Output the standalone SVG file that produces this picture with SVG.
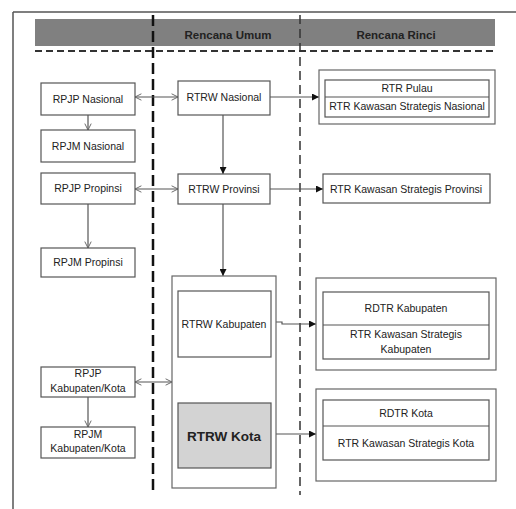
<svg xmlns="http://www.w3.org/2000/svg" width="516" height="509" viewBox="0 0 516 509">
<style>
.bx{fill:#fff;stroke:#555;stroke-width:1.2}
.ob{fill:#fff;stroke:#666;stroke-width:1.2}
.t{font-family:"Liberation Sans",Arial,sans-serif;font-size:10.5px;fill:#222;text-anchor:middle}
.h{font-family:"Liberation Sans",Arial,sans-serif;font-size:11.5px;font-weight:bold;fill:#222;text-anchor:middle}
.c{stroke:#555;stroke-width:1.2;fill:none}
</style>
<defs>
<marker id="fa" viewBox="0 0 10 10" refX="10" refY="5" markerWidth="7" markerHeight="7" orient="auto" markerUnits="userSpaceOnUse"><path d="M0,0 L10,5 L0,10 z" fill="#111"/></marker>
<marker id="oa" viewBox="0 0 10 10" refX="9" refY="5" markerWidth="8" markerHeight="8" orient="auto-start-reverse" markerUnits="userSpaceOnUse"><path d="M1,1 L9,5 L1,9" fill="none" stroke="#666" stroke-width="1.2"/></marker>
</defs>
<rect width="516" height="509" fill="#fff"/>
<g id="frame">
<path d="M13,12 H516 M13,12 V509" stroke="#555" stroke-width="1.5" fill="none"/>
<rect x="35" y="19" width="460" height="27" fill="#808080"/>
<line x1="35" y1="51" x2="495" y2="51" stroke="#333" stroke-width="2" stroke-dasharray="7,4"/>
<line x1="153" y1="15" x2="153" y2="495" stroke="#111" stroke-width="2.5" stroke-dasharray="11,5"/>
<line x1="300" y1="15" x2="300" y2="495" stroke="#333" stroke-width="1.5" stroke-dasharray="9,5"/>
<text class="h" x="228" y="39">Rencana Umum</text>
<text class="h" x="396" y="39">Rencana Rinci</text>
</g>
<g id="connectors">
<line class="c" x1="135" y1="97" x2="178" y2="97" marker-start="url(#oa)" marker-end="url(#oa)"/>
<line class="c" x1="135" y1="189" x2="178" y2="189" marker-start="url(#oa)" marker-end="url(#oa)"/>
<line class="c" x1="135" y1="382" x2="172" y2="382" marker-start="url(#oa)" marker-end="url(#oa)"/>
<line class="c" x1="88" y1="115" x2="88" y2="130" marker-end="url(#oa)"/>
<line class="c" x1="88" y1="204" x2="88" y2="248" marker-end="url(#oa)"/>
<line class="c" x1="88" y1="397" x2="88" y2="427" marker-end="url(#oa)"/>
<line class="c" x1="270" y1="97" x2="319" y2="97" marker-end="url(#fa)"/>
<line class="c" x1="270" y1="189" x2="323" y2="189" marker-end="url(#fa)"/>
<line class="c" x1="223" y1="115" x2="223" y2="174" marker-end="url(#fa)"/>
<line class="c" x1="223" y1="204" x2="223" y2="276" marker-end="url(#fa)"/>
<polyline class="c" points="271,322 282,322 282,324 316,324" marker-end="url(#fa)"/>
<line class="c" x1="271" y1="434" x2="316" y2="434" marker-end="url(#fa)"/>
</g>
<g id="rpjp-nasional"><rect class="bx" x="41" y="83" width="94" height="32"/><text class="t" x="88" y="103">RPJP Nasional</text></g>
<g id="rpjm-nasional"><rect class="bx" x="41" y="130" width="94" height="32"/><text class="t" x="88" y="150">RPJM Nasional</text></g>
<g id="rpjp-propinsi"><rect class="bx" x="41" y="173" width="94" height="31"/><text class="t" x="88" y="192">RPJP Propinsi</text></g>
<g id="rpjm-propinsi"><rect class="bx" x="41" y="248" width="94" height="29"/><text class="t" x="88" y="266">RPJM Propinsi</text></g>
<g id="rpjp-kabkota"><rect class="bx" x="41" y="367" width="94" height="30"/><text class="t" x="88" y="377">RPJP</text><text class="t" x="88" y="392">Kabupaten/Kota</text></g>
<g id="rpjm-kabkota"><rect class="bx" x="41" y="427" width="94" height="31"/><text class="t" x="88" y="438">RPJM</text><text class="t" x="88" y="452">Kabupaten/Kota</text></g>
<g id="rtrw-nasional"><rect class="bx" x="178" y="81" width="92" height="34"/><text class="t" x="224" y="101">RTRW Nasional</text></g>
<g id="rtrw-provinsi"><rect class="bx" x="178" y="174" width="92" height="30"/><text class="t" x="224" y="193">RTRW Provinsi</text></g>
<g id="rtrw-kabkota-group"><rect class="ob" x="172" y="276" width="104" height="212"/></g>
<g id="rtrw-kabupaten"><rect class="bx" x="178" y="291" width="93" height="66"/><text class="t" x="224" y="328">RTRW Kabupaten</text></g>
<g id="rtrw-kota"><rect x="178" y="403" width="93" height="65" fill="#d3d3d3" stroke="#555" stroke-width="1.2"/><text x="224" y="441" font-family="Liberation Sans,Arial,sans-serif" font-size="13.5" font-weight="bold" fill="#222" text-anchor="middle">RTRW Kota</text></g>
<g id="rtr-nasional"><rect class="ob" x="319" y="70" width="176" height="54"/><rect class="bx" x="325" y="80" width="164" height="37"/><line x1="325" y1="97" x2="489" y2="97" stroke="#555" stroke-width="1.2"/><text class="t" x="407" y="92">RTR Pulau</text><text class="t" x="407" y="110">RTR Kawasan Strategis Nasional</text></g>
<g id="rtr-provinsi"><rect class="bx" x="323" y="174" width="167" height="29"/><text class="t" x="406" y="193">RTR Kawasan Strategis Provinsi</text></g>
<g id="rdtr-kabupaten"><rect class="ob" x="316" y="278" width="180" height="92"/><rect class="bx" x="323" y="292" width="166" height="67"/><line x1="323" y1="325" x2="489" y2="325" stroke="#555" stroke-width="1.2"/><text class="t" x="406" y="312">RDTR Kabupaten</text><text class="t" x="406" y="338">RTR Kawasan Strategis</text><text class="t" x="406" y="353">Kabupaten</text></g>
<g id="rdtr-kota"><rect class="ob" x="316" y="389" width="180" height="92"/><rect class="bx" x="323" y="400" width="166" height="60"/><line x1="323" y1="426" x2="489" y2="426" stroke="#555" stroke-width="1.2"/><text class="t" x="406" y="417">RDTR Kota</text><text class="t" x="406" y="447">RTR Kawasan Strategis Kota</text></g>
</svg>
